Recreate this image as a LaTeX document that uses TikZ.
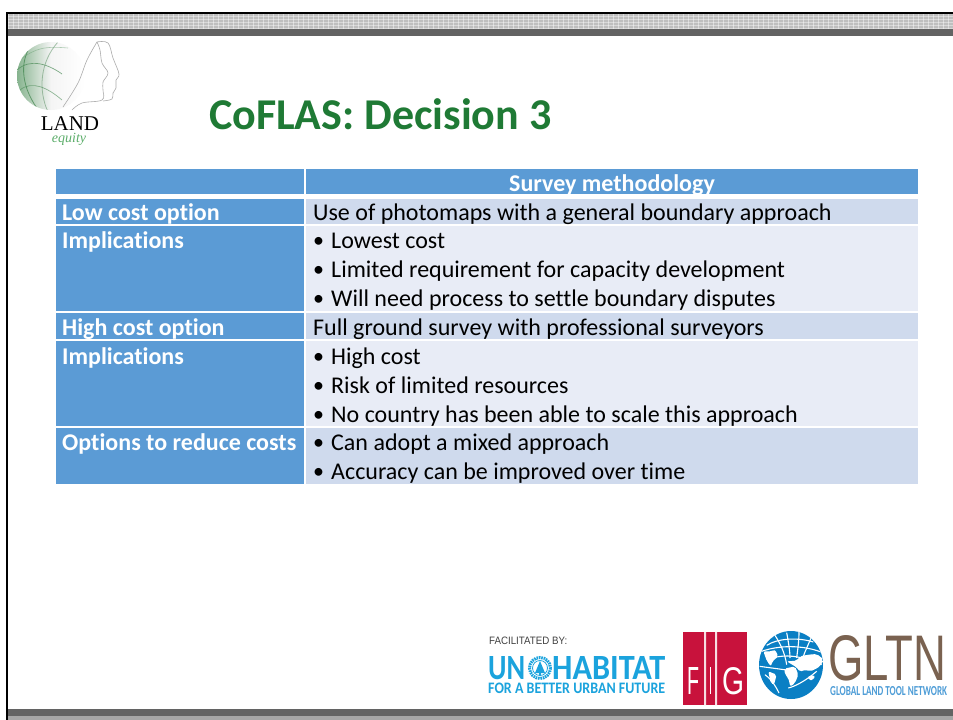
\documentclass[tikz,border=0pt]{standalone}
\usepackage{fontspec}
\setmainfont[Ligatures=CommonOff]{Carlito}
\newfontfamily\logoserif{Liberation Serif}
\newfontfamily\logosans{Liberation Sans}
\newfontfamily\logocal{Carlito}
\definecolor{hdr}{HTML}{5B9BD5}
\definecolor{rowa}{HTML}{CFDAED}
\definecolor{rowb}{HTML}{E8ECF6}
\definecolor{titleg}{HTML}{1F7A35}
\definecolor{darkbar}{HTML}{636363}
\definecolor{lightbar}{HTML}{A6A6A6}
\definecolor{unblue}{HTML}{1BA3DD}
\definecolor{figred}{HTML}{C8123C}
\definecolor{globeb}{HTML}{0A7FC4}
\definecolor{gltnbrown}{HTML}{7A6250}
\definecolor{logog}{HTML}{5DAE6B}
\tikzset{
  x=1pt,y=-1pt,
  headcell/.style={fill=hdr,draw=none},
  cellA/.style={fill=rowa,draw=none},
  cellB/.style={fill=rowb,draw=none},
  headtxt/.style={anchor=base west,inner sep=0pt,text=white,font=\fontsize{24}{24}\selectfont\bfseries},
  bodytxt/.style={anchor=base west,inner sep=0pt,text=black,font=\fontsize{24}{24}\selectfont},
  facetxt/.style={draw=gray!65,line width=0.6pt,fill=none,smooth,tension=.6},
  figtxt/.style={anchor=base west,inner sep=0pt,text=white,font=\logosans},
  gridline/.style={white,line width=1.1pt},
  continent/.style={fill=white,rounded corners=2pt},
}
\newcommand{\bul}{\makebox[18pt][l]{\raisebox{0.5pt}{\fontsize{22}{22}\selectfont\textbullet}}}
\begin{document}
\begin{tikzpicture}
\useasboundingbox (0,0) rectangle (953,720);
\fill[white] (0,0) rectangle (953,720);
% frame top band
\fill[gray!50] (6,14) rectangle (953,29);
\foreach \i in {0,...,188}{\draw[white,opacity=.45,line width=.7pt] ({8+5*\i},14) -- ({8+5*\i},29);}
\foreach \j in {16,19,22,25,28}{\draw[white,opacity=.4,line width=.7pt] (8,\j) -- (953,\j);}
\fill[darkbar] (6,29) rectangle (953,36);
\fill[black] (6,11.5) rectangle (953,14);
% bottom
\fill[darkbar] (6,709) rectangle (953,716);
\fill[lightbar] (6,716) rectangle (953,720);
\fill[black] (6,11.5) rectangle (8,720);
% table cells
\fill[headcell] (56,169) rectangle (304,194);
\fill[headcell] (306,169) rectangle (918,194);
\fill[headcell] (56,199) rectangle (304,224);
\fill[cellA] (306,199) rectangle (918,224);
\fill[headcell] (56,226) rectangle (304,311);
\fill[cellB] (306,226) rectangle (918,311);
\fill[headcell] (56,313) rectangle (304,339);
\fill[cellA] (306,313) rectangle (918,339);
\fill[headcell] (56,341) rectangle (304,426);
\fill[cellB] (306,341) rectangle (918,426);
\fill[headcell] (56,428) rectangle (304,484);
\fill[cellA] (306,428) rectangle (918,484);
% title
\node[anchor=base west,inner sep=0pt,text=titleg,font=\fontsize{44}{44}\selectfont\bfseries] (title) at (209,129) {CoFLAS: Decision 3};
% table text
\node[headtxt,anchor=base] (h) at (612,191) {Survey methodology};
\node[headtxt] (l1) at (62,220) {Low cost option};
\node[bodytxt] (r1) at (313,220) {Use of photomaps with a general boundary approach};
\node[headtxt] (l2) at (62,248) {Implications};
\node[bodytxt] (r2) at (313,248) {\bul Lowest cost};
\node[bodytxt] (r3) at (313,277) {\bul Limited requirement for capacity development};
\node[bodytxt] (r4) at (313,306) {\bul Will need process to settle boundary disputes};
\node[headtxt] (l3) at (62,335) {High cost option};
\node[bodytxt] (r5) at (313,335) {Full ground survey with professional surveyors};
\node[headtxt] (l4) at (62,364) {Implications};
\node[bodytxt] (r6) at (313,364) {\bul High cost};
\node[bodytxt] (r7) at (313,393) {\bul Risk of limited resources};
\node[bodytxt] (r8) at (313,422) {\bul No country has been able to scale this approach};
\node[headtxt] (l5) at (62,450) {Options to reduce costs};
\node[bodytxt] (r9) at (313,450) {\bul Can adopt a mixed approach};
\node[bodytxt] (r10) at (313,479) {\bul Accuracy can be improved over time};
% LAND equity logo
\shade[left color=logog!70!gray!80,right color=white,middle color=gray!8] (51,76) circle (34);
\begin{scope}
\clip (51,76) circle (34);
\draw[logog!80!black,line width=.8pt,opacity=.8] (32,44) .. controls (18,62) and (22,90) .. (40,112);
\draw[logog!60!gray,line width=.8pt,opacity=.6] (58,42) .. controls (40,62) and (38,90) .. (48,112);
\draw[logog!70!gray,line width=.6pt,opacity=.5] (20,60) .. controls (35,48) and (45,46) .. (68,48);
\draw[logog!80!black,line width=.7pt,opacity=.7] (17,70) .. controls (30,58) and (48,64) .. (62,74);
\draw[logog!80!black,line width=.7pt,opacity=.6] (20,90) .. controls (32,80) and (48,88) .. (62,100);
\end{scope}
\draw[facetxt] plot coordinates {(97,42) (87,60) (78,83) (63,107)};
\draw[facetxt] plot coordinates {(97,42) (100,50) (102,63) (108,73) (103,82) (103,90) (102,100) (82,103) (72,110)};
\draw[facetxt] plot coordinates {(97,42) (108,43) (113,58) (119,74) (116,80) (116,88) (113,93) (112,99) (103,101)};
\node[anchor=base,inner sep=0pt,text=black,font=\logoserif\fontsize{21}{21}\selectfont] (land) at (70,130) {LAND};
\node[anchor=base,inner sep=0pt,text=logog,font=\logoserif\itshape\fontsize{14}{14}\selectfont] (eq) at (69,142) {equity};
% facilitated / UN-Habitat
\node[anchor=base west,inner sep=0pt,text=black!75,font=\logosans] (fac) at (489,644) {\resizebox{78pt}{7.5pt}{FACILITATED BY:}};
\node[anchor=base west,inner sep=0pt,text=unblue,font=\logocal\bfseries] (un) at (488,679) {\resizebox{37pt}{23pt}{UN}};
\node[anchor=base west,inner sep=0pt,text=unblue,font=\logocal\bfseries] (hab) at (552,679) {\resizebox{113pt}{23pt}{HABITAT}};
\draw[unblue,line width=3pt,dash pattern=on 1.6pt off 0.8pt] (540,668) circle (10.5);
\draw[unblue,line width=.8pt] (540,668) circle (7.5);
\fill[unblue] (540,661) -- (545,673) -- (535,673) -- cycle;
\fill[unblue] (539.3,673) rectangle (540.7,676);
\node[anchor=base west,inner sep=0pt,text=unblue,font=\logocal\bfseries] (fut) at (488,693) {\resizebox{177pt}{10.5pt}{FOR A BETTER URBAN FUTURE}};
% FIG
\fill[figred] (683,632) rectangle (747,705);
\fill[white!85!figred] (704,632) rectangle (706,705) (715,632) rectangle (717,705);
\node[figtxt] (figf) at (687,694) {\resizebox{12pt}{27pt}{F}};
\node[figtxt] (figi) at (709.5,694) {\resizebox{3pt}{27pt}{I}};
\node[figtxt] (figg) at (722,694) {\resizebox{22pt}{27pt}{G}};
% globe
\fill[globeb] (791,665) circle (32 and 34);
\begin{scope}[shift={(755,628)},scale=1/3]
\clip (108,111) ellipse (96 and 102);
\draw[gridline] (60,22) .. controls (75,45) and (90,75) .. (95,110);
\draw[gridline] (95,14) .. controls (100,40) and (105,70) .. (105,90);
\draw[gridline] (132,12) .. controls (132,40) and (128,65) .. (125,90);
\draw[gridline] (170,25) .. controls (160,50) and (150,70) .. (145,85);
\draw[gridline] (35,52) .. controls (70,30) and (130,28) .. (175,42);
\draw[gridline] (20,70) .. controls (70,52) and (140,50) .. (198,72);
\draw[gridline] (50,90) .. controls (90,80) and (130,80) .. (200,110);
\draw[gridline] (14,115) .. controls (50,120) and (90,125) .. (120,130);
\draw[gridline] (30,140) .. controls (45,150) and (60,170) .. (72,195);
\draw[gridline] (100,180) .. controls (120,175) and (150,160) .. (185,130);
\fill[continent] (25,70) -- (50,70) -- (60,65) -- (70,85) -- (52,100) -- (48,115) -- (36,100) -- cycle;
\fill[continent] (40,130) -- (65,140) -- (57,170) -- (47,165) -- cycle;
\fill[continent] (95,100) -- (125,98) -- (135,85) -- (160,80) -- (185,78) -- (207,95) -- (195,115) -- (178,125) -- (165,130) -- (150,125) -- (135,132) -- (125,118) -- cycle;
\fill[continent] (88,122) -- (120,115) -- (130,140) -- (120,165) -- (106,176) -- (100,150) -- (90,140) -- cycle;
\fill[continent] (158,145) -- (180,142) -- (176,156) -- (160,156) -- cycle;
\end{scope}
% GLTN
\node[anchor=base west,inner sep=0pt,text=gltnbrown,font=\logosans] (gltn) at (828,680) {\resizebox{118pt}{45pt}{GLTN}};
\node[anchor=base west,inner sep=0pt,text=hdr!80!unblue,font=\logocal\bfseries] (gltnsub) at (830,695) {\resizebox{117pt}{9pt}{GLOBAL LAND TOOL NETWORK}};
\end{tikzpicture}
\end{document}
